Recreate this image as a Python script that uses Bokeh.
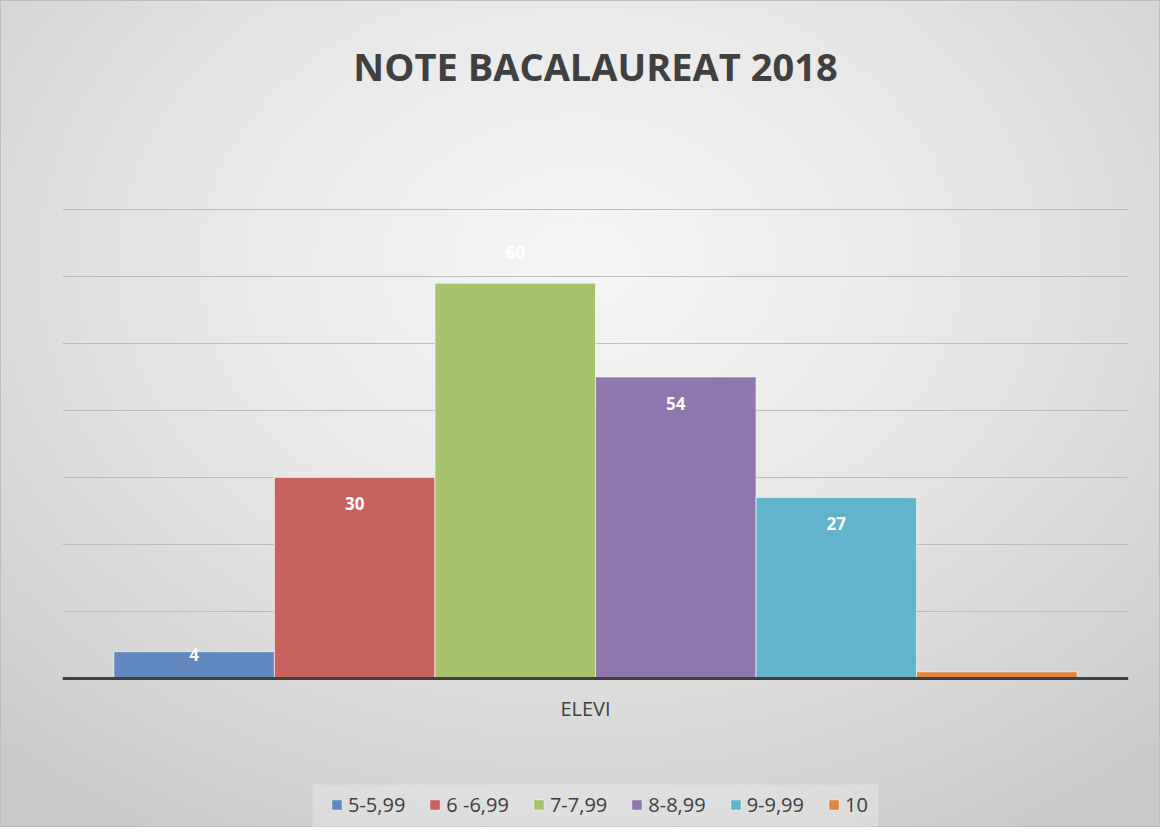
from bokeh.plotting import figure
from bokeh.models import (ColumnDataSource, FactorRange, Range1d, Legend, LegendItem,
                          FixedTicker, LabelSet, Label, Span, BoxAnnotation)
from bokeh.core.properties import value
from bokeh.transform import dodge
from bokeh.embed import file_html
from bokeh.resources import INLINE

# ---- data ----
title = "NOTE BACALAUREAT 2018"
category = ["ELEVI"]
series = ["5-5,99", "6 -6,99", "7-7,99", "8-8,99", "9-9,99", "10"]
values = [4, 30, 59, 45, 27, 1]             # bar heights as drawn
labels = ["4", "30", "60", "54", "27", ""]  # data labels as printed
grid_ticks = [10, 20, 30, 40, 50, 60, 70]
colors = ["#6189c0", "#c8625f", "#a7c26d", "#8f77ad", "#63b4cb", "#dd8540"]

TXT = "#404040"
FONT = "Open Sans"
W, H = 1160, 827
L, R = 62, 32
PX_PER_UNIT = 6.7
BASE = 678  # baseline pixel row from top

p = figure(width=W, height=H, x_range=FactorRange(*category),
           y_range=Range1d(-(H - BASE) / PX_PER_UNIT, BASE / PX_PER_UNIT),
           output_backend="svg", toolbar_location=None,
           min_border_left=L, min_border_right=R, min_border_top=0,
           min_border_bottom=0)

p.styles = {"background": "radial-gradient(ellipse 75% 80% at 50% 32%, #f5f5f5 0%, #e9e9e9 40%, #d2d2d2 85%, #c9c9c9 100%)",
            "box-shadow": "inset 0 0 0 1px #bdbdbd"}
p.background_fill_alpha = 0
p.border_fill_alpha = 0
p.outline_line_color = None
p.title.visible = False
p.xaxis.visible = False
p.yaxis.visible = False
p.xgrid.visible = False
p.ygrid.ticker = FixedTicker(ticks=grid_ticks)
p.ygrid.grid_line_color = "#bdbdbd"
p.ygrid.grid_line_width = 1

bw = 0.1506
n = len(series)
items = []
for i, (s, v, c) in enumerate(zip(series, values, colors)):
    off = (i - (n - 1) / 2) * bw
    src = ColumnDataSource(dict(x=category, top=[v], lab=[labels[i]]))
    r = p.vbar(x=dodge("x", off, range=p.x_range), top="top", bottom=0, width=bw,
               source=src, fill_color=c, line_color="white", line_alpha=0.6,
               line_width=1)
    items.append(LegendItem(label=s, renderers=[r]))
    # label placement: inside end, except the 3rd label which sits above its bar
    yoff = {0: -3, 2: 31}.get(i, -26)
    p.add_layout(LabelSet(x=dodge("x", off, range=p.x_range), y="top", text="lab",
                          source=src, y_offset=yoff, text_align="center",
                          text_baseline="middle", text_color="white",
                          text_font=value(FONT), text_font_style="bold",
                          text_font_size="17px"))

# baseline (category axis line)
p.add_layout(Span(location=0, dimension="width", line_color="#404040", line_width=3))

# category label
p.text(x=category, y=[0], text=category, y_offset=30, x_offset=-10,
       text_align="center", text_baseline="middle", text_color=TXT,
       text_font=value(FONT), text_font_size="20px")

# chart title
p.add_layout(Label(x=595 - L, y=H - 65, x_units="screen", y_units="screen",
                   text=title, text_align="center", text_baseline="middle",
                   text_color=TXT, text_font=FONT, text_font_style="bold",
                   text_font_size="38px"))

# legend panel background
p.add_layout(BoxAnnotation(left=312 - L, right=878 - L, bottom=0, top=H - 784,
                           left_units="screen", right_units="screen",
                           bottom_units="screen", top_units="screen",
                           fill_color="#ffffff", fill_alpha=0.25, line_color=None,
                           level="underlay"))

leg = Legend(items=items, orientation="horizontal", location=(268, 9))
leg.label_text_font = FONT
leg.label_text_font_size = "20px"
leg.label_text_color = TXT
leg.glyph_width = 13
leg.glyph_height = 13
leg.label_standoff = 5
leg.spacing = 23
leg.padding = 10
leg.margin = 0
leg.background_fill_alpha = 0
leg.border_line_color = None
p.add_layout(leg, "center")

open("out.html", "w").write(file_html(p, INLINE))
